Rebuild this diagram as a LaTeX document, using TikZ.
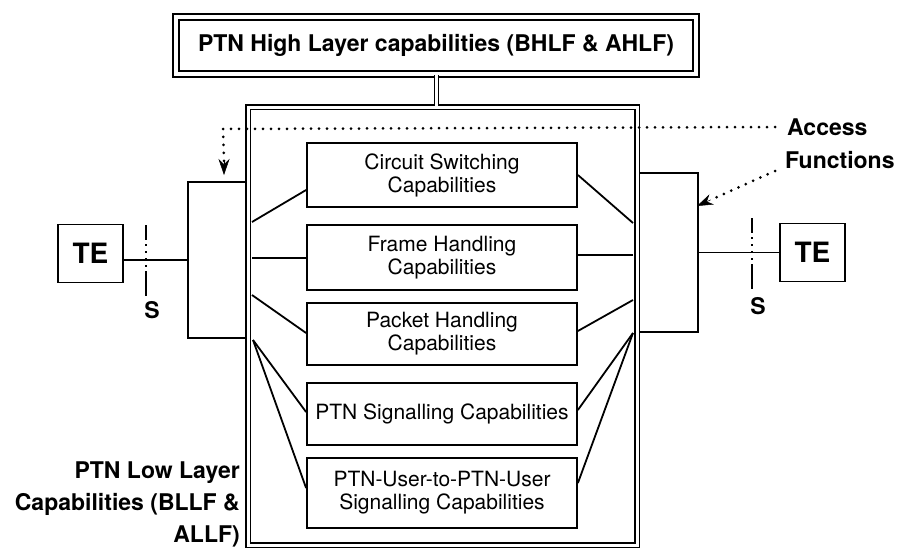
\documentclass[tikz,border=0pt]{standalone}
\usepackage{fontspec}
\setmainfont{TeX Gyre Heros}
\usetikzlibrary{arrows.meta,calc}
\begin{document}
\begin{tikzpicture}[x=1pt,y=-1pt,
  capbox/.style={draw, line width=1.8pt, minimum width=270pt, inner sep=0pt, align=center,
    font=\fontsize{21}{23}\selectfont},
  accbox/.style={draw, line width=1.8pt, inner sep=0pt},
  tebox/.style={draw, line width=1.8pt, minimum width=65pt, minimum height=58pt, inner sep=0pt,
    font=\fontsize{28}{30}\selectfont\bfseries},
  blabel/.style={font=\fontsize{23}{32}\selectfont\bfseries, inner sep=0pt},
  conn/.style={line width=1.8pt},
  sline/.style={line width=1.8pt, dash pattern=on 15pt off 4pt on 2pt off 5pt on 2pt off 5pt on 2pt off 5pt on 2pt off 4pt on 25pt},
  dotline/.style={line width=3pt, line cap=round, dash pattern=on 0pt off 8pt},
  tip/.style={-{Stealth[length=16pt 0 0, width=11pt 0 0]}}
]
\useasboundingbox (0,0) rectangle (900,549);

% access boxes (drawn first, main box line overlays)
\node[accbox, minimum width=59pt, minimum height=156pt] (accL) at (217.5,260) {};
\node[accbox, minimum width=60pt, minimum height=159pt] (accR) at (668,252.5) {};

% main box
\node[draw, double, line width=1.5pt, double distance=3pt, minimum width=389pt, minimum height=438pt, inner sep=0pt] (main) at (442.5,326) {};

% top box
\node[draw, double, line width=2pt, double distance=4pt, minimum width=520pt, minimum height=57pt, inner sep=0pt,
  font=\fontsize{23}{25}\selectfont\bfseries] (top) at (436,45.5) {PTN High Layer capabilities (BHLF \& AHLF)};
\draw[double, line width=1pt, double distance=3pt] (top.south) -- (top.south |- main.north);

% capability boxes
\node[capbox, minimum height=64pt] (circ) at (442,175) {Circuit Switching\\Capabilities};
\node[capbox, minimum height=65pt] (frame) at (442,257.5) {Frame Handling\\Capabilities};
\node[capbox, minimum height=62pt] (pack) at (442,334) {Packet Handling\\Capabilities};
\node[capbox, minimum height=62pt] (sig) at (442,414) {\raisebox{4pt}{PTN Signalling Capabilities}};
\node[capbox, minimum height=70pt] (user) at (442,493) {PTN-User-to-PTN-User\\Signalling Capabilities};

% connector end points on the main box inner line
\coordinate (l1) at (252,222);
\coordinate (l2) at (252,258);
\coordinate (l3) at (252,295);
\coordinate (l4) at (253,340);
\coordinate (r1) at (633,223);
\coordinate (r2) at (633,255);
\coordinate (r3) at (633,300);
\coordinate (r4) at (633,333);

\draw[conn] (l1) -- ([yshift=-15pt]circ.west);
\draw[conn] (l2) -- (frame.west |- l2);
\draw[conn] (l3) -- ([yshift=1pt]pack.west);
\draw[conn] (l4) -- ([yshift=2pt]sig.west);
\draw[conn] (l4) -- ([yshift=5pt]user.west);
\draw[conn] (r1) -- (circ.east);
\draw[conn] (r2) -- (frame.east |- r2);
\draw[conn] (r3) -- ([yshift=3pt]pack.east);
\draw[conn] (r4) -- ([yshift=4pt]sig.east);
\draw[conn] (r4) -- ([yshift=10pt]user.east);

% terminal equipment
\node[tebox] (teL) at (90.5,253.5) {TE};
\node[tebox] (teR) at (812.5,252.5) {TE};
\draw[conn] (teL.east |- accL) -- (accL.west);
\draw[conn] (accR.east) -- (teR.west |- accR);
\coordinate (sLt) at (146,225);
\coordinate (sLb) at (146,296);
\coordinate (sRt) at (752,218);
\coordinate (sRb) at (752,289);
\draw[sline] (sLt) -- (sLb);
\draw[sline] (sRt) -- (sRb);
\node[blabel] (sL) at (152,310) {S};
\node[blabel] (sR) at (758,306) {S};

% access functions label and arrows
\node[blabel, anchor=west] (acc) at (787,127) {Access};
\node[blabel, anchor=west] (fn) at (785,160) {Functions};
\coordinate (dc) at (223,129);
\coordinate (tipL) at (224,175);
\coordinate (tipR) at (697,206);
\draw[dotline] ([xshift=-12pt]acc.west) -- (dc) -- ([yshift=14pt]tipL);
\draw[tip, line width=0.5pt, fill] ([yshift=15pt]tipL) -- (tipL);
\draw[dotline] ([xshift=-10pt,yshift=-11pt]fn.west) -- ($(tipR)!14pt!([xshift=-10pt,yshift=-11pt]fn.west)$);
\draw[tip, line width=0.5pt] ($(tipR)!15pt!([xshift=-10pt,yshift=-11pt]fn.west)$) -- (tipR);

% low layer label
\node[blabel, align=right, anchor=east] (low) at (240,504) {PTN Low Layer\\Capabilities (BLLF \&\\ALLF)};
\end{tikzpicture}
\end{document}
